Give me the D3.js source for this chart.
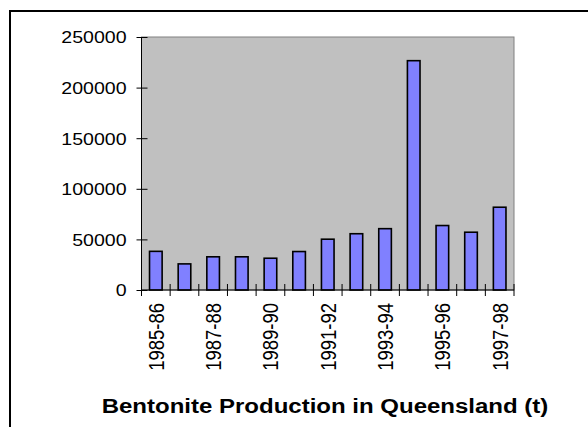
<!DOCTYPE html>
<html lang="en">
  <head>
    <meta charset="utf-8">
    <title>Bentonite Production in Queensland</title>
    <script src="https://d3js.org/d3.v7.min.js"></script>
    <style>
      html, body { margin: 0; padding: 0; background: #fff; overflow: hidden; }
      svg { display: block; }
      text { font-family: "Liberation Sans", Arial, sans-serif; fill: #000; }
    </style>
  </head>
  <body>
    <div id="chart"></div>
    <script>
      // data
      var years = ["1985-86", "1986-87", "1987-88", "1988-89", "1989-90", "1990-91", "1991-92",
                   "1992-93", "1993-94", "1994-95", "1995-96", "1996-97", "1997-98"];
      var tonnes = [38200, 25800, 32800, 32800, 31400, 38000, 50200, 55600, 60600, 226600, 63700, 57100, 81800];
      var yTicks = [0, 50000, 100000, 150000, 200000, 250000];
      var TITLE = "Bentonite Production in Queensland (t)";

      var w = 588;
      var h = 427;
      var STRETCH = 1.2; // the original text is drawn a bit wide

      var margin = {top: 37, right: 74, bottom: 137, left: 141.5};
      var innerWidth = w - margin.left - margin.right;
      var innerHeight = h - margin.top - margin.bottom;

      var svg = d3.select("#chart")
        .append("svg")
          .attr("width", w)
          .attr("height", h);

      // widen a text horizontally without moving its anchor
      function widen(sel) {
        sel.each(function() {
          var len = this.getComputedTextLength();
          d3.select(this)
            .attr("textLength", len * STRETCH)
            .attr("lengthAdjust", "spacingAndGlyphs");
        });
      }

      // outer frame: only its top and left sides are inside the picture
      svg.append("path")
        .attr("d", `M10,${h}V11H${w}`)
        .attr("fill", "none")
        .attr("stroke", "#000")
        .attr("stroke-width", 2);

      var g = svg.append("g")
        .attr("transform", `translate(${margin.left},${margin.top})`);

      var xScale = d3.scaleBand()
        .domain(years)
        .range([0, innerWidth])
        .paddingInner(0.56)
        .paddingOuter(0.28);

      var yScale = d3.scaleLinear()
        .domain([0, 250000])
        .range([innerHeight, 0]);

      // plot area
      g.append("rect")
        .attr("width", innerWidth)
        .attr("height", innerHeight)
        .attr("fill", "#c0c0c0")
        .attr("stroke", "#808080")
        .attr("stroke-width", 1);

      g.selectAll(".bar")
        .data(tonnes)
        .enter()
        .append("rect")
          .attr("class", "bar")
          .attr("x", function(d, i) { return xScale(years[i]); })
          .attr("y", function(d) { return yScale(d); })
          .attr("width", xScale.bandwidth())
          .attr("height", function(d) { return innerHeight - yScale(d); })
          .attr("fill", "#8080ff")
          .attr("stroke", "#000")
          .attr("stroke-width", 1.6);

      // y axis
      var yAxis = d3.axisLeft(yScale)
        .tickValues(yTicks)
        .tickFormat(d3.format("d"))
        .tickSize(0);

      var yg = g.append("g").call(yAxis);
      yg.select(".domain").remove();
      yg.selectAll(".tick line").remove();
      yg.selectAll(".tick").append("line")
        .attr("x1", -5).attr("x2", 6)
        .attr("stroke", "#000");
      yg.selectAll(".tick text")
        .attr("x", -15)
        .attr("dy", "0.36em")
        .style("font-size", "16.3px")
        .style("font-family", "'Liberation Sans', Arial, sans-serif")
        .call(widen);
      g.append("line")
        .attr("x1", 0).attr("x2", 0)
        .attr("y1", 0).attr("y2", innerHeight)
        .attr("stroke", "#000");

      // x axis with ticks between categories
      g.append("line")
        .attr("x1", 0).attr("x2", innerWidth)
        .attr("y1", innerHeight).attr("y2", innerHeight)
        .attr("stroke", "#000");

      var step = xScale.step();
      g.selectAll(".xtick")
        .data(d3.range(years.length + 1))
        .enter()
        .append("line")
          .attr("class", "xtick")
          .attr("x1", function(i) { return i * step; })
          .attr("x2", function(i) { return i * step; })
          .attr("y1", innerHeight - 6)
          .attr("y2", innerHeight + 6)
          .attr("stroke", "#000");

      g.selectAll(".xlabel")
        .data(years.filter(function(d, i) { return i % 2 === 0; }))
        .enter()
        .append("g")
          .attr("class", "xlabel")
          .attr("transform", function(d) {
            return `translate(${xScale(d) + xScale.bandwidth() / 2},${innerHeight + 13})`;
          })
        .append("text")
          .attr("transform", `scale(${STRETCH},1) rotate(-90)`)
          .attr("text-anchor", "end")
          .attr("dy", "0.36em")
          .style("font-size", "18.5px")
          .text(function(d) { return d; });

      // title
      svg.append("text")
        .attr("x", 325)
        .attr("y", 413)
        .attr("text-anchor", "middle")
        .style("font-size", "20px")
        .style("font-weight", "bold")
        .text(TITLE)
        .call(widen);
    </script>
  </body>
</html>
